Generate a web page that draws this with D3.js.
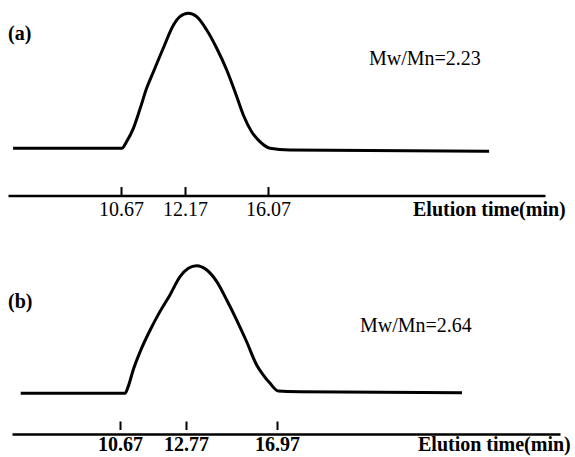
<!DOCTYPE html>
<html>
<head>
<meta charset="utf-8">
<script src="https://cdn.jsdelivr.net/npm/d3@7"></script>
<style>
  html, body { margin: 0; padding: 0; background: #fff; }
  svg { display: block; }
</style>
</head>
<body>
<svg id="chart" width="575" height="457"></svg>
<script>
// ---------- data ----------
const panelLabels = ["(a)", "(b)"];
const ratioLabels = ["Mw/Mn=2.23", "Mw/Mn=2.64"];
const axisTitle = "Elution time(min)";

const tickValuesA = [10.67, 12.17, 16.07];
const tickValuesB = [10.67, 12.77, 16.97];

// axis breakpoints (schematic, non-uniform time axis)
const domainA = [8.0, 10.67, 12.17, 16.07, 29.1];
const domainB = [7.2, 10.67, 12.77, 16.97, 30.0];

// elution time (min) and detector signal (relative, peak = 100)
const timeA   = [8.12, 10.69, 10.80, 10.96, 11.12, 11.27, 11.43, 11.66, 11.90, 12.05, 12.33, 12.72, 13.19, 13.66, 14.13, 14.52, 14.91, 15.30, 15.69, 16.16, 17.10, 26.47];
const signalA = [0, 0, 4.9, 14.8, 29.6, 44.4, 56.7, 74.1, 91.3, 97.5, 100, 97.5, 87.6, 74.1, 58.0, 41.9, 24.7, 12.3, 4.9, 0, -1.3, -2.2];

const timeB   = [7.48, 10.83, 10.93, 11.09, 11.31, 11.63, 11.94, 12.26, 12.58, 12.88, 13.26, 13.73, 14.19, 14.65, 15.11, 15.57, 16.03, 16.34, 16.65, 17.03, 18.03, 25.49];
const signalB = [0, 0, 5.2, 18.3, 32.6, 49.6, 64.0, 77.1, 91.4, 98.0, 100, 96.6, 87.5, 73.1, 57.4, 40.4, 22.2, 14.3, 7.8, 1.8, 1.3, 0.5];

// ---------- layout ----------
const FONT = "'Liberation Serif', 'Times New Roman', serif";
const panels = [
  {
    label: panelLabels[0], ratio: ratioLabels[0],
    time: timeA, signal: signalA, ticks: tickValuesA, domain: domainA,
    xRange: [8, 121, 185, 268, 545],
    yRange: [148.3, 13.3],
    axisY: 195.5, tickTop: 187, tickBottom: 195.5, tickBold: false,
    tickLabelY: 215.5, titleX: 413, titleY: 216,
    labelX: 8, labelY: 40, ratioX: 369, ratioY: 65
  },
  {
    label: panelLabels[1], ratio: ratioLabels[1],
    time: timeB, signal: signalB, ticks: tickValuesB, domain: domainB,
    xRange: [12, 120, 186, 277, 560],
    yRange: [393.3, 265.7],
    axisY: 434, tickTop: 421.5, tickBottom: 430, tickBold: true,
    tickLabelY: 450.5, titleX: 418, titleY: 450.5,
    labelX: 8, labelY: 308, ratioX: 360, ratioY: 332
  }
];

const svg = d3.select("#chart");

panels.forEach(p => {
  const x = d3.scaleLinear().domain(p.domain).range(p.xRange);
  const y = d3.scaleLinear().domain([0, 100]).range(p.yRange);
  const g = svg.append("g");

  // curve
  const pts = p.time.map((t, i) => [t, p.signal[i]]);
  g.append("path")
    .datum(pts)
    .attr("fill", "none")
    .attr("stroke", "#000")
    .attr("stroke-width", 3)
    .attr("stroke-linejoin", "round")
    .attr("d", d3.line().x(d => x(d[0])).y(d => y(d[1])).curve(d3.curveMonotoneX));

  // axis
  const axis = d3.axisBottom(x)
    .tickValues(p.ticks)
    .tickSizeInner(-(p.tickBottom - p.tickTop))
    .tickSizeOuter(0)
    .tickPadding(0)
    .tickFormat(d3.format(".2f"));

  const ag = g.append("g")
    .attr("transform", `translate(0,${p.axisY})`)
    .call(axis)
    .attr("font-family", null)
    .attr("font-size", null);

  ag.select(".domain").attr("stroke", "#000").attr("stroke-width", 2.5);
  ag.selectAll(".tick line")
    .attr("stroke", "#000")
    .attr("stroke-width", 2)
    .attr("y1", p.tickBottom - p.axisY)
    .attr("y2", p.tickTop - p.axisY);
  ag.selectAll(".tick text")
    .attr("y", p.tickLabelY - p.axisY)
    .attr("dy", null)
    .attr("fill", "#000")
    .style("font-family", FONT)
    .style("font-size", "20px")
    .style("font-weight", p.tickBold ? "bold" : "normal");

  // axis title
  g.append("text")
    .attr("x", p.titleX).attr("y", p.titleY)
    .attr("fill", "#000")
    .style("font-family", FONT)
    .style("font-size", "20px").style("font-weight", "bold")
    .text(axisTitle);

  // panel label
  g.append("text")
    .attr("x", p.labelX).attr("y", p.labelY)
    .attr("fill", "#000")
    .style("font-family", FONT)
    .style("font-size", "20px").style("font-weight", "bold")
    .text(p.label);

  // polydispersity
  g.append("text")
    .attr("x", p.ratioX).attr("y", p.ratioY)
    .attr("fill", "#000")
    .style("font-family", FONT)
    .style("font-size", "20px")
    .text(p.ratio);
});
</script>
</body>
</html>
